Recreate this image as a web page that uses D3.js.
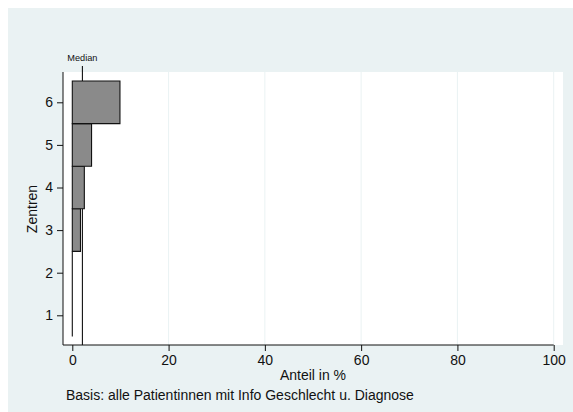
<!DOCTYPE html>
<html><head><meta charset="utf-8">
<script src="https://cdn.jsdelivr.net/npm/d3@7"></script>
<style>body{margin:0;background:#fff}svg{display:block;font-family:"Liberation Sans",Arial,sans-serif}</style>
</head><body><svg id="c" width="573" height="412"></svg>
<script>
const zentren = [1, 2, 3, 4, 5, 6];
const anteil = [0, 0, 1.7, 2.5, 4.0, 9.9];
const median = 2.1;
const xTicks = [0, 20, 40, 60, 80, 100];
const yTicks = [1, 2, 3, 4, 5, 6];
const xTitle = "Anteil in %";
const yTitle = "Zentren";
const note = "Basis: alle Patientinnen mit Info Geschlecht u. Diagnose";
const medianLabel = "Median";

const svg = d3.select("#c");
svg.append("rect").attr("x", 8).attr("y", 8).attr("width", 565).attr("height", 404).attr("fill", "#eaf2f3");

const pl = {x0: 63, x1: 563, y0: 72, y1: 345};
svg.append("rect").attr("x", pl.x0).attr("y", pl.y0).attr("width", pl.x1 - pl.x0).attr("height", pl.y1 - pl.y0).attr("fill", "#fff");

const x = d3.scaleLinear().domain([0, 100]).range([72.3, 553.7]);
const y = d3.scaleLinear().domain([1, 6]).range([315.3, 102.3]);

// gridlines
svg.append("g").selectAll("line").data(xTicks.filter(d => d > 0)).join("line")
  .attr("x1", d => x(d)).attr("x2", d => x(d)).attr("y1", pl.y0).attr("y2", pl.y1)
  .attr("stroke", "#eaf2f3").attr("stroke-width", 1);

// median line (behind the bars)
svg.append("line").attr("x1", x(median)).attr("x2", x(median)).attr("y1", 66).attr("y2", pl.y1)
  .attr("stroke", "#111").attr("stroke-width", 1.1);
svg.append("text").attr("x", x(median)).attr("y", 61).attr("text-anchor", "middle")
  .attr("font-size", 9.2).attr("fill", "#111").text(medianLabel);

// bars (drawn as outlined paths so zero-width bars show as a line)
svg.append("g").selectAll("path").data(zentren.map((z, i) => ({z, v: anteil[i]}))).join("path")
  .attr("d", d => {
    const x0 = x(0), x1 = x(d.v), yt = y(d.z + 0.5), yb = y(d.z - 0.5);
    return `M${x0},${yt}H${x1}V${yb}H${x0}Z`;
  })
  .attr("fill", "#8a8a8a").attr("stroke", "#111").attr("stroke-width", 1.1);

// axes
const xa = svg.append("g").attr("transform", `translate(0,${pl.y1})`)
  .call(d3.axisBottom(x).tickValues(xTicks).tickFormat(d3.format("d")).tickSize(6).tickPadding(4));
xa.select(".domain").attr("d", `M${pl.x0},0H${x(100)}`).attr("stroke", "#111");
xa.selectAll("text").attr("font-size", 14).attr("fill", "#111").attr("font-family", "Liberation Sans, Arial, sans-serif");
xa.selectAll(".tick line").attr("stroke", "#111");

const ya = svg.append("g").attr("transform", `translate(${pl.x0},0)`)
  .call(d3.axisLeft(y).tickValues(yTicks).tickFormat(d3.format("d")).tickSize(6).tickPadding(4));
ya.select(".domain").attr("d", `M0,${pl.y0}V${pl.y1}`).attr("stroke", "#111");
ya.selectAll("text").attr("font-size", 14).attr("fill", "#111").attr("font-family", "Liberation Sans, Arial, sans-serif");
ya.selectAll(".tick line").attr("stroke", "#111");

svg.append("text").attr("x", (72 + 554) / 2).attr("y", 380).attr("text-anchor", "middle")
  .attr("font-size", 14).attr("fill", "#111").text(xTitle);
svg.append("text").attr("transform", `translate(37,209) rotate(-90)`).attr("text-anchor", "middle")
  .attr("font-size", 14).attr("fill", "#111").text(yTitle);
svg.append("text").attr("x", 66).attr("y", 400).attr("font-size", 14).attr("fill", "#111").text(note);
</script></body></html>
